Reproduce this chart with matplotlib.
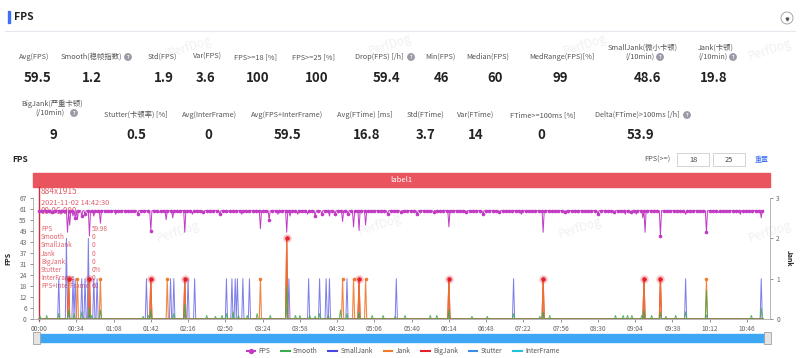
import numpy as np
import matplotlib.pyplot as plt
from matplotlib.lines import Line2D
from matplotlib.patches import Rectangle, Circle

plt.rcParams['font.family'] = ['Noto Sans CJK SC', 'DejaVu Sans']

W, H = 800, 358

# ---- summary stats (label, value, label x, value x) ----
row1_labels = ['Avg(FPS)', 'Smooth(稳帧指数)', 'Std(FPS)', 'Var(FPS)', 'FPS>=18 [%]', 'FPS>=25 [%]',
               'Drop(FPS) [/h]', 'Min(FPS)', 'Median(FPS)', 'MedRange(FPS)[%]',
               'SmallJank(微小卡顿)\n(/10min)', 'Jank(卡顿)\n(/10min)']
row1_values = ['59.5', '1.2', '1.9', '3.6', '100', '100', '59.4', '46', '60', '99', '48.6', '19.8']
row1_lx = [34, 91, 162, 207, 256, 313, 379, 440, 488, 562, 643, 716]
row1_vx = [38, 92, 164, 206, 258, 317, 386, 441, 495, 560, 647, 714]

row2_labels = ['BigJank(严重卡顿)\n(/10min)', 'Stutter(卡顿率) [%]', 'Avg(InterFrame)', 'Avg(FPS+InterFrame)',
               'Avg(FTime) [ms]', 'Std(FTime)', 'Var(FTime)', 'FTime>=100ms [%]', 'Delta(FTime)>100ms [/h]']
row2_values = ['9', '0.5', '0', '59.5', '16.8', '3.7', '14', '0', '53.9']
row2_lx = [52, 136, 209, 287, 365, 425, 476, 543, 637]
row2_vx = [53, 136, 208, 288, 367, 426, 476, 541, 640]

# ---- time series (one sample per second) ----
duration = 662
fps_base = 60
fps_dip_t = [12, 20, 26, 28, 31, 33, 35, 39, 42, 46, 50, 56, 62, 70, 83, 90, 102, 110, 116, 122, 128,
             133, 140, 150, 165, 172, 185, 190, 202, 210, 218, 226, 229, 236, 245, 252, 258, 265, 270,
             277, 282, 287, 292, 298, 305, 318, 330, 345, 360, 374, 390, 405, 420, 440, 460, 480, 510,
             525, 535, 540, 545, 551, 553, 567, 575, 590, 609, 620, 640, 655, 659]
fps_dip_v = [59, 58, 48, 52, 57, 56, 55, 57, 58, 46, 57, 53, 59, 58, 59, 58, 49, 59, 55, 56, 59,
             48, 58, 59, 58, 59, 58, 59, 50, 55, 58, 48, 57, 58, 58, 57, 58, 57, 58,
             54, 58, 51, 49, 52, 59, 58, 59, 58, 59, 51, 59, 58, 59, 58, 48, 59, 58,
             59, 58, 59, 58, 56, 48, 46, 59, 58, 48, 59, 58, 59, 56]

smooth_t = [1, 7, 18, 27, 32, 39, 46, 48, 56, 95, 100, 102, 123, 133, 153, 161, 167, 171, 177, 182,
            190, 199, 211, 226, 234, 238, 247, 252, 256, 264, 275, 281, 292, 304, 314, 325, 334, 357,
            363, 374, 395, 409, 433, 457, 460, 466, 526, 533, 537, 541, 550, 552, 559, 567, 572, 581,
            590, 609, 650, 659]
smooth_v = [1.5, 2, 3, 5, 3, 4, 6, 2, 5, 1.5, 2, 5, 3, 8, 2, 1.5, 2, 3, 4, 2,
            2, 3, 2, 18, 2, 2, 2, 1.5, 3, 2, 5, 3, 4, 2, 2, 1.5, 2, 2,
            2, 5, 1.5, 1.5, 3, 1.5, 4, 2, 2, 2, 2, 2, 2, 5, 2, 4, 1.5, 2,
            4, 16, 2, 6]

smalljank_t = [18, 25, 31, 33, 39, 42, 45, 50, 53, 98, 120, 123, 136, 142, 171, 176, 179, 181, 186,
               192, 228, 246, 256, 262, 265, 281, 326, 433, 590, 659]
smalljank_v = [1, 2, 1, 1, 1, 1, 2, 1, 1, 1, 1, 1, 1, 1, 1, 1, 1, 1, 1,
               1, 1, 1, 1, 1, 1, 1, 1, 1, 1, 1]

jank_t = [27, 35, 46, 56, 102, 117, 133, 202, 226, 277, 287, 292, 298, 374, 460, 552, 567, 609]
jank_v = [1, 1, 1, 1, 1, 1, 1, 1, 2, 1, 1, 1, 1, 1, 1, 1, 1, 1]

bigjank_t = [27, 46, 102, 133, 226, 292, 374, 460, 552, 567]
bigjank_v = [1, 1, 1, 1, 2, 1, 1, 1, 1, 1]

stutter_t = [27, 46, 102, 133, 226, 292, 374, 460, 552, 567, 609]
stutter_v = [0.15, 0.12, 0.15, 0.12, 0.3, 0.12, 0.15, 0.15, 0.18, 0.12, 0.1]

tick_step = 34
tooltip_rows = [('FPS', '59.98'), ('Smooth', '0'), ('SmallJank', '0'), ('Jank', '0'), ('BigJank', '0'),
                ('Stutter', '0%'), ('InterFrame', '0'), ('FPS+InterFrame', '60')]
fps_ticks = ['0', '6', '12', '18', '24', '31', '37', '43', '49', '55', '61', '67']
legend_names = ['FPS', 'Smooth', 'SmallJank', 'Jank', 'BigJank', 'Stutter', 'InterFrame']

colors = {'FPS': '#C23BC4', 'Smooth': '#3DAA4C', 'SmallJank': '#4747E0', 'Jank': '#F07A2E',
          'BigJank': '#E3202C', 'Stutter': '#3A8EE6', 'InterFrame': '#22C3D8'}


def series(times, vals, base=0.0):
    arr = np.full(duration, float(base))
    arr[times] = vals
    return arr


t = np.arange(duration)
fps = series(fps_dip_t, fps_dip_v, fps_base)
smooth = series(smooth_t, smooth_v)
smalljank = series(smalljank_t, smalljank_v)
jank = series(jank_t, jank_v)
bigjank = series(bigjank_t, bigjank_v)
stutter = series(stutter_t, stutter_v)
interframe = np.zeros(duration)

fig = plt.figure(figsize=(W / 100, H / 100), dpi=100)
bg = fig.add_axes([0, 0, 1, 1])
bg.set_xlim(0, W)
bg.set_ylim(H, 0)
bg.axis('off')

# watermarks
for wx, wy in [(190, 47), (390, 45), (585, 45), (770, 50), (178, 232), (380, 225), (580, 228), (770, 232)]:
    bg.text(wx, wy, 'PerfDog', color='#F1F1F4', fontsize=8.5, rotation=18, ha='center', va='center', zorder=0)

# header
bg.add_patch(Rectangle((8, 11), 1.8, 12, color='#3E6FF5'))
bg.text(14, 17, 'FPS', fontsize=7.5, fontweight='bold', color='#222222', va='center')
bg.plot([5, 795], [31, 31], color='#E6E6EE', lw=0.8)
bg.add_patch(Circle((787, 18), 6, fill=False, ec='#999999', lw=0.6))
bg.plot([787], [19], marker='v', color='#555555', markersize=2)


def help_icon(x, y):
    bg.add_patch(Circle((x, y), 3.2, color='#9A9AA6'))
    bg.text(x, y + 0.3, '?', color='white', fontsize=3.6, ha='center', va='center', fontweight='bold')


for lab, val, lx, vx in zip(row1_labels, row1_values, row1_lx, row1_vx):
    if '\n' in lab:
        l1, l2 = lab.split('\n')
        bg.text(lx, 48, l1, fontsize=5.3, color='#555555', ha='center', va='center')
        bg.text(lx - 3, 57, l2, fontsize=5.3, color='#555555', ha='center', va='center')
        help_icon(lx + 17, 57)
    else:
        bg.text(lx, 57, lab, fontsize=5.3, color='#555555', ha='center', va='center')
    bg.text(vx, 78, val, fontsize=9.5, fontweight='bold', color='#222222', ha='center', va='center')
help_icon(128, 57)
help_icon(411, 57)

for lab, val, lx, vx in zip(row2_labels, row2_values, row2_lx, row2_vx):
    if '\n' in lab:
        l1, l2 = lab.split('\n')
        bg.text(lx, 104, l1, fontsize=5.3, color='#555555', ha='center', va='center')
        bg.text(lx - 2, 113, l2, fontsize=5.3, color='#555555', ha='center', va='center')
        help_icon(lx + 22, 113)
    else:
        bg.text(lx, 115, lab, fontsize=5.3, color='#555555', ha='center', va='center')
    bg.text(vx, 135, val, fontsize=9.5, fontweight='bold', color='#222222', ha='center', va='center')
help_icon(687, 115)

# chart title and threshold inputs
bg.text(12, 160, 'FPS', fontsize=6, fontweight='bold', color='#222222', va='center')
bg.text(657, 160, 'FPS(>=)', fontsize=5.3, color='#555555', ha='center', va='center')
for bx, txt in [(677, '18'), (713, '25')]:
    bg.add_patch(Rectangle((bx, 153), 32, 13, fill=False, ec='#CCCCCC', lw=0.6))
    bg.text(bx + 16, 159.5, txt, fontsize=5.3, color='#444444', ha='center', va='center')
bg.text(762, 160, '重置', fontsize=5, color='#3E6FF5', ha='center', va='center')

# label bar
bg.add_patch(Rectangle((33, 173), 737, 14, color='#E9545F'))
bg.text(401, 180, 'label1', fontsize=5.5, color='white', ha='center', va='center')

# slider and handles
bg.add_patch(Rectangle((35, 334), 733, 8, color='#3DA6F5'))
for hx in [33, 764]:
    bg.add_patch(Rectangle((hx, 332), 7, 12, fc='#E4E4E4', ec='#A0A0A0', lw=0.6))

# ---- chart ----
ax = fig.add_axes([33 / W, (H - 319) / H, 737 / W, 121 / H])
ax2 = ax.twinx()
ax.set_zorder(3)
ax2.set_zorder(2)
ax.patch.set_visible(False)

ax2.plot(t, interframe, color=colors['InterFrame'], lw=0.8)
ax.plot(t, smooth, color=colors['Smooth'], lw=0.7, alpha=0.85)
ax2.plot(t, smalljank, color=colors['SmallJank'], lw=0.7, alpha=0.7)
ax2.plot(t, stutter, color=colors['Stutter'], lw=0.7, alpha=0.8)
ax2.plot(t, bigjank, color=colors['BigJank'], lw=0.8)
ax2.plot(t, jank, color=colors['Jank'], lw=0.8, alpha=0.9)
ax2.scatter(jank_t, jank_v, s=2.5, color=colors['Jank'], zorder=4)
ax2.scatter(bigjank_t, bigjank_v, s=38, color=colors['BigJank'], alpha=0.25, lw=0, zorder=5)
ax2.scatter(bigjank_t, bigjank_v, s=5, color=colors['BigJank'], zorder=6)
ax.plot(t, fps, color=colors['FPS'], lw=0.7, marker='o', markersize=1.6, markevery=3)

ax.set_xlim(-5.5, 667)
ax.set_ylim(0, 67)
ax2.set_ylim(0, 3)
xt = np.arange(0, duration - 10, tick_step)
ax.set_xticks(xt)
ax.set_xticklabels(['%02d:%02d' % (s // 60, s % 60) for s in xt])
ax.set_yticks(np.linspace(0, 67, 12))
ax.set_yticklabels(fps_ticks)
ax2.set_yticks([0, 1, 2, 3])

for a in (ax, ax2):
    a.tick_params(labelsize=4.8, colors='#666666', length=2.5, width=0.5, pad=2)
    for s in a.spines.values():
        s.set_color('#AAAAAA')
        s.set_linewidth(0.6)
    a.spines['top'].set_visible(False)
ax.spines['right'].set_visible(False)
ax2.spines['left'].set_visible(False)
ax2.spines['bottom'].set_visible(False)
ax.set_ylabel('FPS', fontsize=5, fontweight='bold', color='#222222', labelpad=6)
ax2.set_ylabel('Jank', fontsize=5, fontweight='bold', color='#222222', rotation=-90, labelpad=9)

# tooltip overlay at 00:00
bg.plot([39, 39], [187, 320], color='#C8323C', lw=1.0, zorder=10)
tip = '#E0606A'
bg.text(41, 192, '884x1915', fontsize=6, color=tip, va='center', zorder=10)
bg.text(41, 203, '2021-11-02 14:42:30', fontsize=5.3, color=tip, va='center', zorder=10)
bg.text(41, 212, '00:06:000', fontsize=5.8, color=tip, va='center', zorder=10)
for i, (k, v) in enumerate(tooltip_rows):
    y = 229 + i * 8.2
    bg.text(41, y, k, fontsize=4.6, color=tip, va='center', zorder=10)
    bg.text(92, y, v, fontsize=4.6, color=tip, va='center', zorder=10)
bg.set_zorder(1)

# legend
handles = []
for name in legend_names:
    if name == 'FPS':
        handles.append(Line2D([], [], color=colors[name], lw=1.5, marker='o', markersize=2.8))
    else:
        handles.append(Line2D([], [], color=colors[name], lw=1.5))
fig.legend(handles, legend_names, loc='center', bbox_to_anchor=(403 / W, 1 - 351 / H), ncol=7,
           frameon=False, fontsize=4.8, handlelength=1.3, handletextpad=0.5, columnspacing=1.6,
           labelcolor='#555555')

fig.savefig('out.png', dpi=100, facecolor='white')
